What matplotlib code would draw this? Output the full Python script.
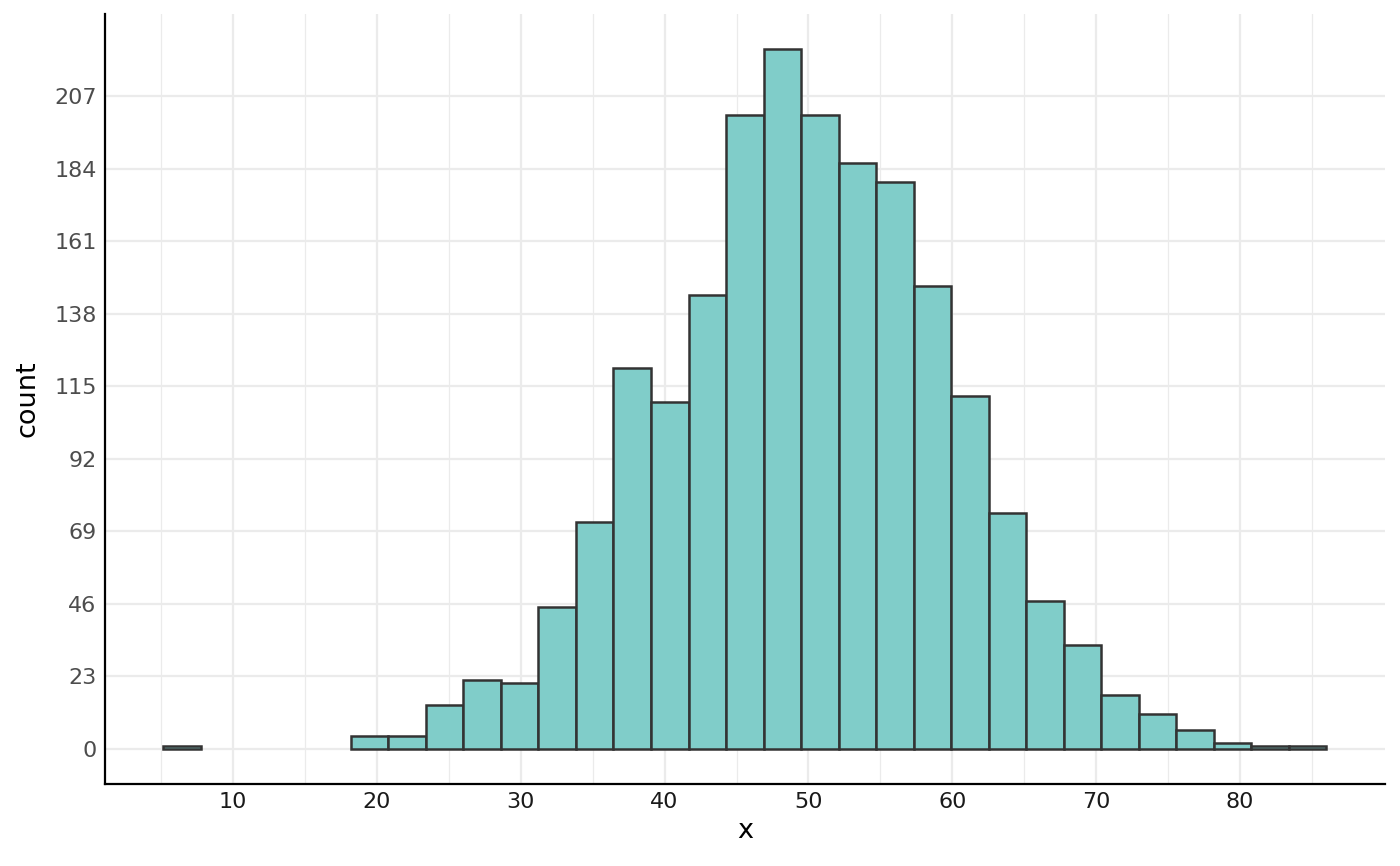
import numpy as np
import matplotlib
matplotlib.use('Agg')
import matplotlib.pyplot as plt

# histogram bins (ggplot-style, 31 bins)
bin_start = 5.15
bin_width = 2.608
counts = [1, 0, 0, 0, 0, 4, 4, 14, 22, 21, 45, 72, 121, 110, 144, 201,
          222, 201, 186, 180, 147, 112, 75, 47, 33, 17, 11, 6, 2, 1, 1]
y_ticks = [0, 23, 46, 69, 92, 115, 138, 161, 184, 207]
x_ticks = [10, 20, 30, 40, 50, 60, 70, 80]

edges = bin_start + bin_width * np.arange(len(counts))
counts = np.array(counts)
keep = counts > 0

fig = plt.figure(figsize=(14, 8.66), dpi=100)
ax = fig.add_axes([0.075, 0.0947, 0.914, 0.889])

ax.bar(edges[keep], counts[keep], width=bin_width, align='edge',
       color='#80CDC9', edgecolor='#333333', linewidth=1.8, zorder=3)

xmin, xmax = edges[0], edges[-1] + bin_width
pad = (xmax - xmin) * 0.05
ax.set_xlim(xmin - pad, xmax + pad)
ymax = counts.max()
ax.set_ylim(-ymax * 0.05, ymax * 1.05)

ax.set_xticks(x_ticks)
ax.set_xticks(np.arange(5, 90, 10), minor=True)
ax.set_yticks(y_ticks)
ax.grid(which='major', color='#EBEBEB', linewidth=1.6, zorder=0)
ax.grid(which='minor', axis='x', color='#EBEBEB', linewidth=0.9, zorder=0)
ax.tick_params(which='both', length=0, labelsize=16, pad=6)
ax.tick_params(axis='y', labelcolor='#4D4D4D')
ax.tick_params(axis='x', labelcolor='#1A1A1A')

for s in ['top', 'right']:
    ax.spines[s].set_visible(False)
for s in ['left', 'bottom']:
    ax.spines[s].set_linewidth(1.6)
    ax.spines[s].set_color('black')

ax.set_xlabel('x', fontsize=19.5, labelpad=4)
ax.set_ylabel('count', fontsize=19.5, labelpad=10)

fig.savefig('out.png', dpi=100)
